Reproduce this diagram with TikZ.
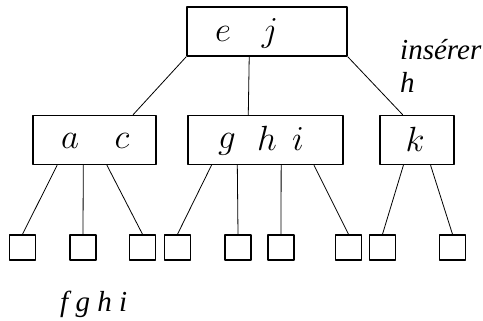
\RequirePackage{fix-cm}
\documentclass[tikz,border=0pt]{standalone}
\usepackage{fontspec}
\newfontfamily\notefont{Liberation Serif}
\usetikzlibrary{calc}

\begin{document}
\begin{tikzpicture}[x=1pt,y=-1pt,line cap=round,line join=round,
	keybox/.style={draw,line width=1.6pt,inner sep=0pt,minimum height=49pt},
	leaf/.style={draw,line width=1.5pt,inner sep=0pt,minimum width=26pt,minimum height=25pt},
	key/.style={inner sep=0pt,anchor=base,font=\fontsize{35}{40}\selectfont},
	note/.style={inner sep=0pt,anchor=base west,font=\fontsize{29}{33}\selectfont\notefont\itshape},
	edge/.style={line width=0.8pt}]
	\useasboundingbox (0,0) rectangle (483,321);
	\node[keybox,minimum width=160pt] (rootbox) at (267,31.5) {};
	\node[keybox,minimum width=123pt] (acbox) at (94.5,140) {};
	\node[keybox,minimum width=155pt] (ghibox) at (265.5,140) {};
	\node[keybox,minimum width=74pt] (kbox) at (417,140) {};
	\node[key] (le) at (223,42) {$e$};
	\node[key] (lj) at (270,42) {$j$};
	\node[key] (la) at (70,149) {$a$};
	\node[key] (lc) at (122,149) {$c$};
	\node[key] (lg) at (227,149) {$g$};
	\node[key] (lh) at (267,150) {$h$};
	\node[key] (li) at (298,150) {$i$};
	\node[key] (lk) at (415,152) {$k$};
	\foreach \x [count=\i] in {22.5,83,142.5,177.5,238,281,348.5,382.5,452.5}
		\node[leaf] (leaf\i) at (\x,247.5) {};
	\draw[edge] (rootbox.south west) -- ($(acbox.north west)!0.81!(acbox.north east)$);
	\draw[edge] ($(rootbox.south west)!0.39!(rootbox.south east)$) -- ($(ghibox.north west)!0.39!(ghibox.north east)$);
	\draw[edge] (rootbox.south east) -- ($(kbox.north west)!0.31!(kbox.north east)$);
	\draw[edge] ($(acbox.south west)!0.2!(acbox.south east)$) -- (leaf1.north);
	\draw[edge] ($(acbox.south west)!0.41!(acbox.south east)$) -- (leaf2.north);
	\draw[edge] ($(acbox.south west)!0.6!(acbox.south east)$) -- (leaf3.north);
	\draw[edge] ($(ghibox.south west)!0.155!(ghibox.south east)$) -- (leaf4.north);
	\draw[edge] ($(ghibox.south west)!0.32!(ghibox.south east)$) -- (leaf5.north);
	\draw[edge] ($(ghibox.south west)!0.6!(ghibox.south east)$) -- (leaf6.north);
	\draw[edge] ($(ghibox.south west)!0.81!(ghibox.south east)$) -- (leaf7.north);
	\draw[edge] ($(kbox.south west)!0.32!(kbox.south east)$) -- (leaf8.north);
	\draw[edge] ($(kbox.south west)!0.68!(kbox.south east)$) -- (leaf9.north);
	\node[note] (ins1) at (400,60) {insérer};
	\node[note] (ins2) at (400,93) {h};
	\node[note] (rest) at (60,312) {f g h i};
\end{tikzpicture}
\end{document}
